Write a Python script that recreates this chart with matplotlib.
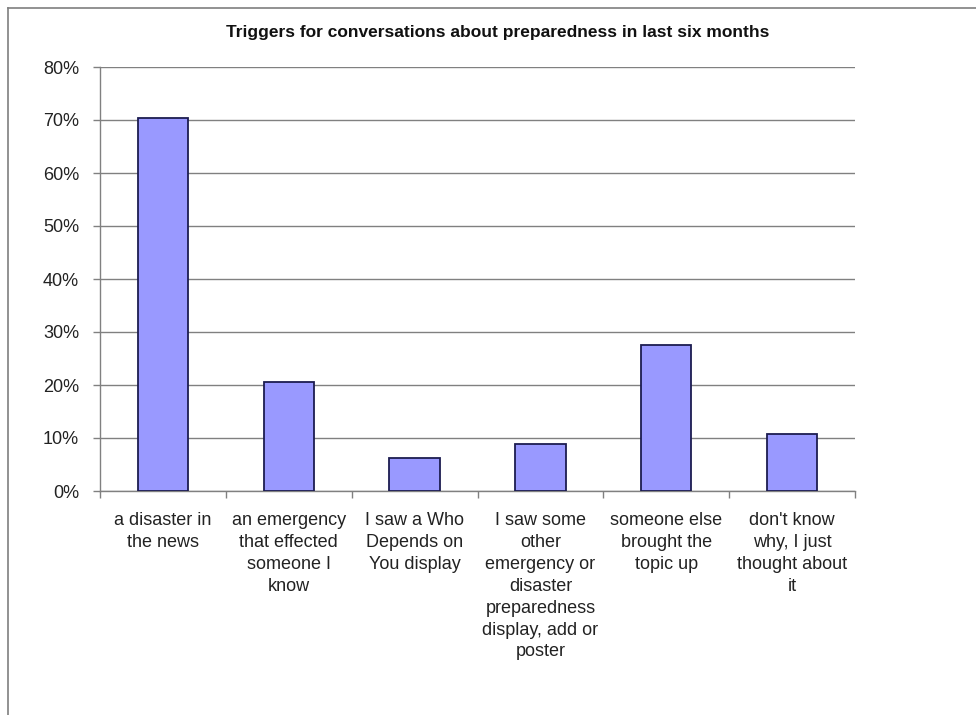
import matplotlib
matplotlib.use("Agg")
import matplotlib.pyplot as plt
import numpy as np
from matplotlib.lines import Line2D
from matplotlib.ticker import FuncFormatter

plt.rcParams["font.family"] = ["Liberation Sans", "DejaVu Sans"]

TITLE = "Triggers for conversations about preparedness in last six months"
categories = [
    "a disaster in\nthe news",
    "an emergency\nthat effected\nsomeone I\nknow",
    "I saw a Who\nDepends on\nYou display",
    "I saw some\nother\nemergency or\ndisaster\npreparedness\ndisplay, add or\nposter",
    "someone else\nbrought the\ntopic up",
    "don't know\nwhy, I just\nthought about\nit",
]
shares = [0.704, 0.205, 0.063, 0.088, 0.276, 0.107]
y_ticks = [0.0, 0.1, 0.2, 0.3, 0.4, 0.5, 0.6, 0.7, 0.8]

W, H = 976, 715
fig = plt.figure(figsize=(W / 100, H / 100), dpi=100)
fig.patch.set_facecolor("white")

# plot area in pixel terms
x0, x1, y_top, y_bot = 100, 855, 67, 491
ax = fig.add_axes([x0 / W, 1 - y_bot / H, (x1 - x0) / W, (y_bot - y_top) / H])

grid_c = "#808080"
text_c = "#222222"

x = np.arange(len(categories))
ax.bar(x, shares, width=0.4, color="#9999FF", edgecolor="#1c1c50",
       linewidth=1.3, zorder=3)

ax.set_xlim(-0.5, len(categories) - 0.5)
ax.set_ylim(0, 0.8)
ax.set_yticks(y_ticks)
ax.yaxis.set_major_formatter(FuncFormatter(lambda v, _: f"{v * 100:.0f}%"))
ax.grid(axis="y", color=grid_c, linewidth=1.0, zorder=0)

ax.set_xticks(x)
ax.set_xticklabels(categories, fontsize=13, color=text_c, linespacing=1.38,
                   multialignment="center", va="top")
ax.set_xticks(np.arange(-0.5, len(categories)), minor=True)
ax.tick_params(axis="x", which="major", length=0, pad=15)
ax.tick_params(axis="x", which="minor", length=5, color=grid_c, width=1)
ax.tick_params(axis="y", length=5, color=grid_c, width=1, pad=10,
               labelsize=13, labelcolor=text_c)

for side in ("top", "right"):
    ax.spines[side].set_visible(False)
for side in ("left", "bottom"):
    ax.spines[side].set_color(grid_c)
    ax.spines[side].set_linewidth(1.0)

fig.text(498 / W, 1 - 33 / H, TITLE, ha="center", va="center",
         fontsize=12.5, fontweight="bold", color="#111111")

# chart frame, running off the right and bottom edges
frame_c = "#7f7f7f"
fig.add_artist(Line2D([8 / W, 8 / W], [0, 1 - 8 / H], color=frame_c, lw=1.2,
                      transform=fig.transFigure))
fig.add_artist(Line2D([8 / W, 1], [1 - 8 / H, 1 - 8 / H], color=frame_c, lw=1.2,
                      transform=fig.transFigure))

fig.savefig("out.png", dpi=100, facecolor="white")
